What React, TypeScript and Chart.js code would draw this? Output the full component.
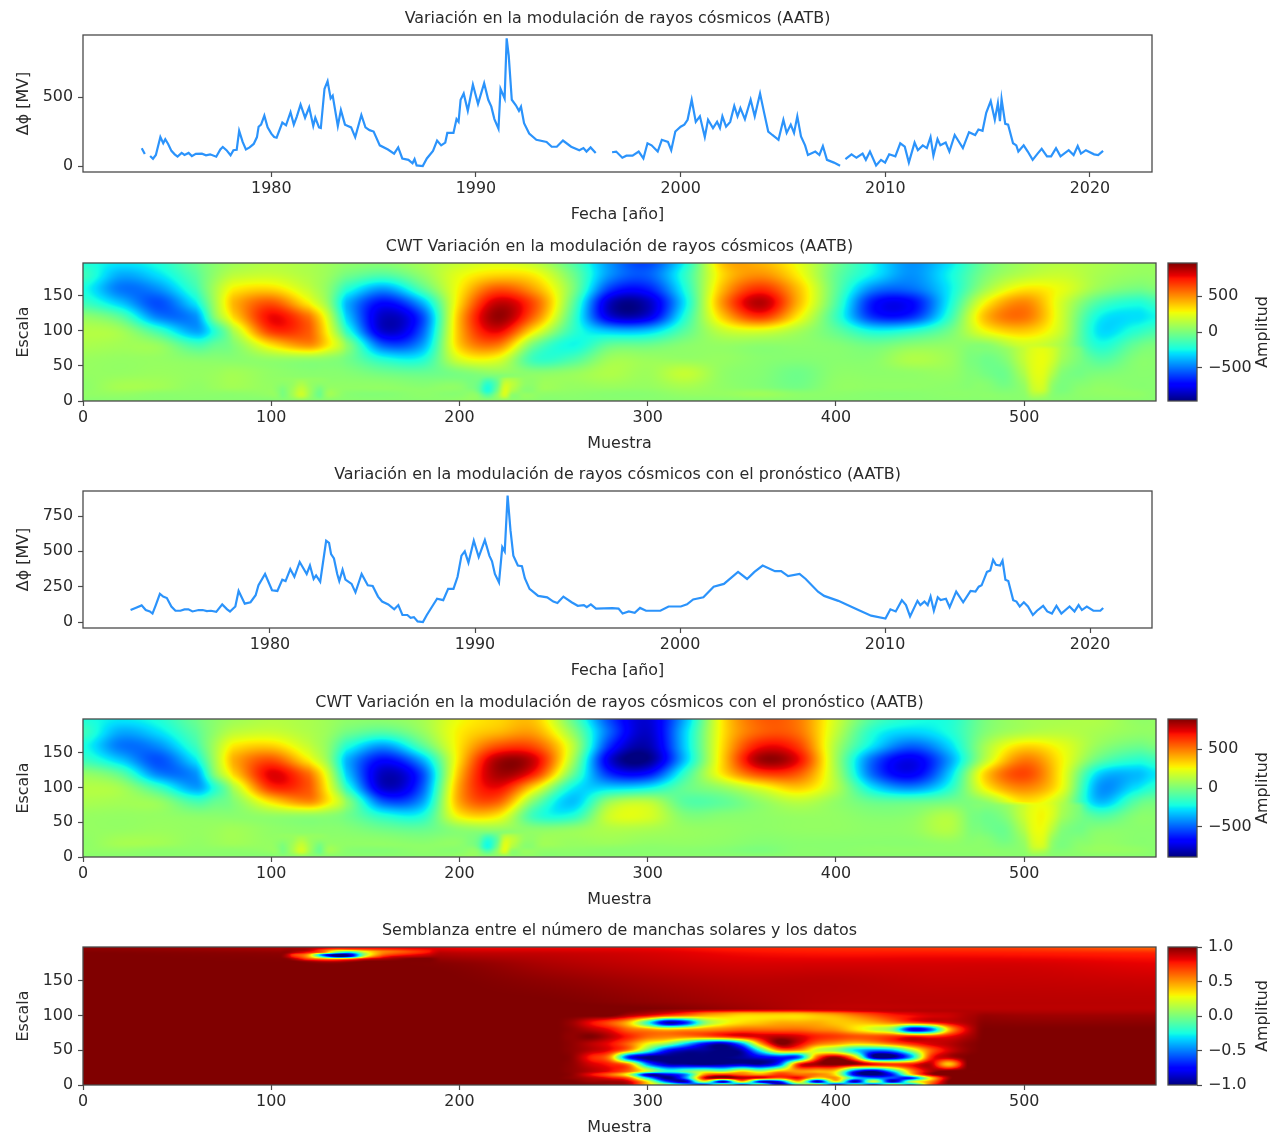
import React, { useEffect, useRef } from "react";
import { Chart, registerables } from "chart.js";

Chart.register(...registerables);

const FONT = "'DejaVu Sans'";
const FONT_SIZE = 15.9;
const TEXT = "#2a2a2a";
const SPINE = "#4a4a4a";

const cosmicRays: [number, number | null][] = [
  [1973.67,129],[1973.82,87],[1973.95,null],[1974.08,73],[1974.22,53],[1974.36,80],[1974.58,210],[1974.72,165],[1974.82,194],[1974.96,160],
  [1975.12,110],[1975.28,85],[1975.42,68],[1975.62,95],[1975.76,80],[1975.96,95],[1976.12,72],[1976.31,88],[1976.61,90],[1976.81,78],
  [1977.01,85],[1977.31,68],[1977.51,120],[1977.63,138],[1977.81,115],[1978.01,78],[1978.15,115],[1978.31,118],[1978.43,255],[1978.6,175],
  [1978.76,120],[1978.94,135],[1979.14,160],[1979.3,210],[1979.38,285],[1979.5,300],[1979.66,365],[1979.82,280],[1980,235],[1980.14,210],
  [1980.26,205],[1980.54,315],[1980.72,295],[1980.94,390],[1981.1,300],[1981.25,360],[1981.43,445],[1981.65,350],[1981.85,425],[1982.05,290],
  [1982.15,350],[1982.33,280],[1982.42,275],[1982.6,560],[1982.75,615],[1982.9,490],[1983,510],[1983.25,290],[1983.4,405],[1983.6,300],
  [1983.9,280],[1984.1,210],[1984.4,370],[1984.6,280],[1984.8,260],[1985,250],[1985.3,150],[1985.7,120],[1986,90],[1986.2,135],
  [1986.4,55],[1986.7,45],[1986.9,20],[1987,50],[1987.1,5],[1987.4,0],[1987.6,55],[1987.9,110],[1988.1,185],[1988.3,150],
  [1988.5,170],[1988.6,240],[1988.9,240],[1989.05,340],[1989.15,320],[1989.25,480],[1989.4,525],[1989.6,400],[1989.85,590],[1990.1,450],
  [1990.4,600],[1990.6,480],[1990.75,430],[1990.9,340],[1991.1,270],[1991.2,560],[1991.4,490],[1991.5,925],[1991.6,800],[1991.75,480],
  [1991.95,440],[1992.1,400],[1992.2,430],[1992.35,310],[1992.6,235],[1992.95,190],[1993.45,175],[1993.7,140],[1993.95,140],[1994.25,185],
  [1994.65,140],[1995.05,115],[1995.25,130],[1995.4,105],[1995.6,135],[1995.85,95],[1996.2,null],[1996.65,100],[1996.85,105],[1997.15,60],
  [1997.35,75],[1997.65,75],[1997.95,105],[1998.18,55],[1998.38,165],[1998.58,150],[1998.88,105],[1999.08,190],[1999.38,175],[1999.54,115],
  [1999.74,250],[2000,285],[2000.18,300],[2000.34,335],[2000.54,480],[2000.74,320],[2000.94,360],[2001.18,210],[2001.34,335],[2001.58,275],
  [2001.78,320],[2001.92,275],[2002.04,360],[2002.22,285],[2002.42,320],[2002.62,435],[2002.78,360],[2002.92,420],[2003.14,340],[2003.42,480],
  [2003.62,360],[2003.88,525],[2004.08,385],[2004.28,250],[2004.48,225],[2004.78,190],[2005.02,335],[2005.18,240],[2005.38,300],[2005.54,240],
  [2005.7,360],[2005.88,215],[2006.08,150],[2006.22,80],[2006.58,105],[2006.78,80],[2006.95,145],[2007.15,45],[2007.49,25],[2007.79,2],
  [2007.9,null],[2008.05,50],[2008.35,85],[2008.59,60],[2008.89,90],[2009.05,45],[2009.25,105],[2009.55,5],[2009.79,45],[2009.99,25],
  [2010.19,85],[2010.49,70],[2010.73,165],[2010.95,140],[2011.15,25],[2011.43,170],[2011.59,115],[2011.83,150],[2012.03,130],[2012.21,210],
  [2012.35,75],[2012.55,195],[2012.69,150],[2012.95,170],[2013.13,105],[2013.39,225],[2013.79,130],[2014.09,245],[2014.39,225],[2014.55,265],
  [2014.75,255],[2014.93,385],[2015.15,470],[2015.35,335],[2015.5,455],[2015.6,325],[2015.68,485],[2015.86,305],[2016,300],[2016.24,165],
  [2016.4,150],[2016.5,105],[2016.76,150],[2016.96,105],[2017.2,45],[2017.44,90],[2017.64,125],[2017.9,70],[2018.1,70],[2018.34,130],
  [2018.56,70],[2018.96,115],[2019.2,80],[2019.4,145],[2019.56,90],[2019.8,115],[2020.2,85],[2020.4,80],[2020.64,110],
];

const cosmicForecast: [number, number][] = [
  [1973.2,85],[1973.44,100],[1973.74,118],[1973.94,85],[1974.14,75],[1974.27,60],[1974.43,120],[1974.63,200],[1974.79,180],[1974.97,170],
  [1975.19,110],[1975.39,80],[1975.63,80],[1975.83,90],[1976.02,90],[1976.22,75],[1976.52,85],[1976.72,85],[1976.92,78],[1977.12,80],
  [1977.38,72],[1977.67,125],[1977.91,90],[1978.05,75],[1978.31,110],[1978.47,220],[1978.77,130],[1979.05,140],[1979.3,190],[1979.44,260],
  [1979.76,340],[1980.1,225],[1980.36,220],[1980.6,300],[1980.76,290],[1980.99,375],[1981.19,320],[1981.45,425],[1981.79,340],[1981.95,400],
  [1982.13,305],[1982.25,330],[1982.45,285],[1982.74,575],[1982.88,560],[1982.98,480],[1983.12,450],[1983.28,340],[1983.38,290],[1983.54,370],
  [1983.68,300],[1983.98,270],[1984.17,210],[1984.47,340],[1984.77,260],[1985.01,255],[1985.27,180],[1985.47,145],[1985.77,125],[1986.06,90],
  [1986.26,120],[1986.46,50],[1986.7,50],[1986.86,30],[1987.02,35],[1987.2,5],[1987.46,0],[1987.65,50],[1987.91,110],[1988.15,165],
  [1988.45,155],[1988.69,235],[1988.95,235],[1989.15,320],[1989.34,470],[1989.5,500],[1989.68,420],[1989.94,575],[1990.18,460],[1990.48,580],
  [1990.7,470],[1990.83,430],[1990.97,340],[1991.17,280],[1991.33,530],[1991.45,500],[1991.59,895],[1991.73,650],[1991.87,470],[1992.09,400],
  [1992.29,395],[1992.43,310],[1992.66,235],[1993.08,185],[1993.52,175],[1993.82,145],[1994.02,135],[1994.31,180],[1994.71,140],[1995.01,115],
  [1995.31,120],[1995.45,105],[1995.65,125],[1995.9,95],[1996.7,98],[1997,95],[1997.2,60],[1997.5,75],[1997.79,65],[1998.05,100],
  [1998.34,80],[1999.04,80],[1999.44,110],[2000.04,110],[2000.34,125],[2000.64,160],[2001.14,175],[2001.64,250],[2002.14,270],[2002.83,355],
  [2003.27,305],[2003.63,355],[2004.03,400],[2004.63,360],[2004.93,360],[2005.27,325],[2005.83,340],[2006.13,305],[2006.73,215],[2007.03,185],
  [2007.72,150],[2008.62,90],[2009.32,45],[2010.02,25],[2010.26,90],[2010.52,75],[2010.82,155],[2011.02,120],[2011.22,40],[2011.58,150],
  [2011.72,120],[2011.92,145],[2012.08,120],[2012.22,180],[2012.38,80],[2012.57,175],[2012.71,155],[2012.97,165],[2013.15,105],[2013.47,215],
  [2013.81,140],[2014.17,220],[2014.41,215],[2014.57,250],[2014.71,260],[2014.97,355],[2015.13,365],[2015.27,440],[2015.41,405],[2015.61,400],
  [2015.73,435],[2015.87,300],[2016.01,290],[2016.25,155],[2016.41,145],[2016.57,110],[2016.77,140],[2016.97,110],[2017.21,50],[2017.41,80],
  [2017.71,115],[2017.91,75],[2018.14,60],[2018.36,115],[2018.6,60],[2019,110],[2019.24,75],[2019.44,120],[2019.6,85],[2019.84,110],
  [2020.16,80],[2020.5,80],[2020.64,100],
];

const yearTicks = [1980, 1990, 2000, 2010, 2020];
const sampleTicks = [0, 100, 200, 300, 400, 500];
const scaleTicks = [0, 50, 100, 150];
const dataTicks1 = [0, 500];
const dataTicks2 = [0, 250, 500, 750];
const ampTicks = [-500, 0, 500];
const semblanceTicks = [-1, -0.5, 0, 0.5, 1];

const cwtSamples = [0,20,40,60,70,80,100,120,130,140,160,180,200,220,240,260,280,300,320,340,360,380,400,420,440,460,480,500,520,540,560,570];
const cwtScales = [199,180,160,140,120,100,80,60,40,20,10,0];

// one line per sample column, top (scale 199) to bottom (scale 0)
const cwtData = [
  [-220,-150,-230,-150,50,130,110,70,60,40,50,30],
  [-280,-400,-500,-350,-80,90,90,60,60,100,60,30],
  [-220,-300,-450,-580,-480,-150,60,60,70,90,40,30],
  [-50,-90,-150,-280,-450,-420,-130,30,60,50,40,30],
  [30,50,100,90,20,-200,-60,30,70,70,40,30],
  [80,150,300,420,350,120,20,30,90,90,40,30],
  [130,180,350,620,780,680,330,60,50,60,60,20],
  [110,120,170,300,560,610,500,60,30,90,130,30],
  [80,70,40,60,200,280,320,40,30,60,100,30],
  [50,-20,-200,-380,-330,-180,40,-20,20,50,30,30],
  [40,-100,-430,-720,-860,-840,-560,-220,-30,50,20,30],
  [100,50,-100,-400,-600,-560,-430,-230,-50,30,40,30],
  [170,250,300,350,420,420,380,220,0,40,30,50],
  [220,350,620,850,930,800,550,250,50,-120,100,100],
  [150,300,450,620,560,300,-30,-160,30,70,50,30],
  [-100,-20,20,-50,-120,-170,-250,-120,60,60,40,30],
  [-450,-450,-620,-860,-800,-360,-60,80,120,70,30,30],
  [-600,-550,-680,-870,-800,-350,-40,70,80,60,30,30],
  [-250,-180,-220,-280,-200,-80,30,60,170,100,60,30],
  [400,350,420,500,380,170,60,60,50,50,60,30],
  [420,500,700,880,680,220,40,30,20,20,80,30],
  [250,300,400,420,300,100,40,20,-30,-20,40,30],
  [-20,-50,-60,-100,-150,-60,20,30,40,50,40,30],
  [-260,-280,-480,-700,-640,-250,-30,30,40,50,30,30],
  [-450,-450,-520,-730,-640,-200,30,120,50,50,30,30],
  [-300,-260,-280,-260,-180,-30,50,80,60,40,40,30],
  [-30,10,100,300,420,280,30,-30,0,30,40,30],
  [90,140,320,520,560,380,200,230,210,180,60,30],
  [130,180,250,200,190,170,100,120,10,10,30,30],
  [110,100,60,-120,-260,-300,-220,-100,0,50,50,30],
  [70,60,-20,-220,-300,-200,-50,20,30,30,50,30],
  [70,60,10,-160,-250,-130,0,30,30,30,30,30],
];

const cwtForecast = [
  [-200,-140,-210,-140,50,120,100,60,55,40,45,30],
  [-260,-370,-460,-320,-70,85,85,55,55,90,55,30],
  [-200,-280,-420,-530,-440,-140,55,55,65,85,40,30],
  [-40,-80,-140,-260,-410,-390,-120,30,55,50,40,30],
  [30,45,90,85,20,-185,-55,30,65,65,40,30],
  [75,140,290,400,330,110,20,30,80,80,40,30],
  [120,170,340,580,740,640,310,55,45,55,55,20],
  [100,110,160,280,520,570,470,55,30,85,120,30],
  [75,65,40,55,185,260,300,40,30,55,95,30],
  [45,-20,-190,-350,-310,-170,40,-20,20,45,30,30],
  [40,-90,-400,-660,-800,-780,-520,-200,-30,45,20,30],
  [90,50,-90,-370,-550,-520,-400,-210,-50,30,40,30],
  [250,280,300,320,380,430,420,280,40,40,30,50],
  [320,380,580,820,830,720,560,300,60,-100,100,100],
  [350,420,580,760,660,300,0,-150,30,70,50,30],
  [-50,50,150,100,-30,-240,-330,-200,50,60,40,30],
  [-550,-500,-600,-750,-600,-300,60,180,110,70,30,30],
  [-760,-780,-820,-880,-650,-250,130,200,100,50,30,30],
  [-350,-300,-300,-320,-150,-50,-80,10,60,50,30,30],
  [300,300,320,340,300,60,-60,20,50,40,20,30],
  [550,550,700,840,600,220,50,40,40,20,0,30],
  [500,520,620,720,560,350,140,60,50,30,30,30],
  [180,150,100,80,100,120,50,50,50,30,30,30],
  [-100,-200,-280,-500,-500,-280,-50,20,40,30,40,30],
  [-200,-300,-500,-720,-700,-430,-60,30,50,30,40,30],
  [-200,-210,-300,-400,-320,-200,-20,110,120,50,40,30],
  [0,20,100,150,350,280,50,-60,-50,30,40,30],
  [80,110,320,500,600,480,300,200,200,200,60,30],
  [100,130,230,270,260,240,130,100,-20,0,30,30],
  [110,90,50,-60,-300,-400,-340,-100,20,50,60,30],
  [50,50,-30,-180,-340,-270,-80,20,30,30,50,30],
  [50,50,0,-140,-260,-170,-20,30,30,30,30,30],
];

const fanASamples = [100,106,111,116,121,126,132];
const fanAScales = [35,25,15,8,0];
const fanA = [
  [60,60,60,60,60,60,60],
  [40,40,60,110,60,40,40],
  [20,0,80,170,70,-20,40],
  [60,0,80,180,60,-30,60],
  [30,30,30,40,30,30,30],
];

const fanBSamples = [205,210,215,220,224,228,235,245];
const fanBScales = [38,25,15,8,0];
const fanB = [
  [10,20,10,20,40,60,50,40],
  [40,-40,-180,-60,170,150,50,60],
  [50,-50,-220,-20,220,120,30,60],
  [40,20,-80,50,200,40,60,40],
  [40,40,40,40,40,40,40,40],
];

const tailSamples = [470,480,490,500,505,510,515,520,530,535];
const tailScales = [80,60,40,25,15,8,0];
const tail = [
  [40,30,70,170,230,240,200,110,-20,-140],
  [20,-30,20,170,240,260,200,90,-10,-70],
  [30,-20,-30,120,230,240,130,20,-20,-5],
  [40,20,-20,70,200,210,60,0,20,30],
  [40,30,10,50,170,180,40,0,40,50],
  [30,40,30,40,110,100,30,20,40,50],
  [30,30,30,30,40,40,30,30,30,30],
];

const semblanceSamples = [0,100,160,200,250,300,350,400,450,500,570];
const semblanceScales = [199,190,175,150,120,110,100,80,0];
const semblanceBase = [
  [.97,.92,.85,.8,.8,.8,.75,.72,.7,.68,.6],
  [1,.98,.95,.9,.88,.85,.8,.78,.78,.77,.75],
  [1,1,1,.98,.92,.88,.85,.85,.85,.85,.82],
  [1,1,1,1,.97,.93,.9,.9,.88,.88,.87],
  [1,1,1,1,1,.97,.93,.9,.9,.9,.9],
  [1,1,1,1,1,1,.95,.9,.9,.9,.9],
  [1,1,1,1,1,1,1,1,.98,.95,.95],
  [1,1,1,1,1,1,1,1,1,1,1],
  [1,1,1,1,1,1,1,1,1,1,1],
];

const patchSamples = [105,112,120,128,135,142,150,158,165,175,190];
const patchScales = [199,195,191,188,185,182,178,172];
const semblancePatch = [
  [.98,.95,.9,.75,.65,.65,.7,.7,.75,.8,.85],
  [1,.95,.9,.55,.3,.35,.45,.55,.6,.7,.8],
  [1,.9,.75,.5,-.1,-.3,.2,.5,.6,.7,.85],
  [.95,.7,.45,-.6,-1,-.85,.1,.55,.7,.8,.9],
  [.9,.75,.45,-.3,-.9,-.7,.3,.7,.85,.9,.95],
  [1,.9,.65,.5,.45,.55,.8,.9,.95,1,1],
  [1,1,.95,.9,.9,.95,1,1,1,1,1],
  [1,1,1,1,1,1,1,1,1,1,1],
];

const coreSamples = [250,260,270,280,290,300,310,320,330,340,350,360,370,380,390,400,410,420,430,440,450,460,470,480];
const coreScales = [110,100,90,80,70,60,50,40,30,20,15,10,5,0];
const semblanceCore = [
  [1,1,1,1,1,.95,.9,.85,.8,.75,.7,.7,.7,.7,.75,.8,.85,.88,.9,.9,.9,.9,.9,.9],
  [1,1,1,1,.9,.8,.65,.55,.45,.4,.35,.35,.35,.35,.4,.45,.55,.65,.75,.8,.85,.87,.92,.95],
  [1,.95,.8,.65,.4,-.2,-.9,-.7,0,.25,.35,.4,.45,.45,.45,.4,.4,.45,.55,.65,.75,.85,.92,.98],
  [1,.97,.9,.8,.6,.5,.4,.45,.5,.55,.6,.6,.6,.6,.55,.5,.35,.2,0,-.8,-.6,.4,.85,1],
  [1,.97,1,.9,.75,.6,.55,.55,.6,.7,.8,.85,.9,.85,.75,.7,.65,.65,.7,.75,.7,.8,.92,1],
  [1,.97,.9,.8,.6,.3,.1,-.3,-.7,-.85,-.4,.5,1,.85,.6,.5,.4,.45,.6,.75,.85,.9,.97,1],
  [1,.97,.9,.8,.5,-.1,-.7,-.9,-.95,-1,-.9,-.2,.5,.5,.2,.05,-.3,-.5,-.4,.1,.6,.85,.97,1],
  [1,.97,.75,.5,-.7,-1,-1,-1,-1,-1,-.95,-.8,-.7,-.6,.6,.95,.4,-.95,-1,-.4,.7,.9,1,1],
  [1,.97,.85,.75,.5,-.5,-.9,-.95,-1,-.95,-.9,-.95,-.6,.7,.95,1,.95,.8,.7,.75,.9,.4,1,1],
  [1,.97,.9,.8,.6,.2,-.2,-.1,.1,0,.3,.1,.4,.5,.45,.35,-.6,-.9,-.3,.5,.9,1,1,1],
  [1,.97,.8,.6,.2,-.9,-.8,-.5,.5,.7,.6,.5,.7,.6,.55,.3,-.8,-1,-.7,.3,.9,1,1,1],
  [1,.97,.9,.8,.6,-.3,-1,-.5,.8,.95,.9,.8,.6,.8,.3,.5,-.3,-.5,-.6,-.7,.3,.95,1,1],
  [1,1,.95,.95,.85,.3,-.6,-.9,.2,-.9,.4,-.8,-.7,.4,-.9,.3,-.9,.2,-.9,.1,.5,1,1,1],
  [1,1,1,.95,.9,.4,.1,-.3,-.8,.3,-.8,.2,-.9,-.2,.4,-.9,.1,-.8,.3,-.5,.6,1,1,1],
];

type Layer = { xs: number[]; ys: number[]; rows: number[][] };

const transpose = (cols: number[][]) => cols[0].map((_, j) => cols.map((c) => c[j]));

const fanLayers: Layer[] = [
  { xs: fanASamples, ys: fanAScales, rows: fanA },
  { xs: fanBSamples, ys: fanBScales, rows: fanB },
  { xs: tailSamples, ys: tailScales, rows: tail },
];

function jet(t: number): [number, number, number] {
  const ramp = (v: number, a: number, b: number) => Math.max(0, Math.min(1, (v - a) / (b - a)));
  const r = t < 0.89 ? ramp(t, 0.35, 0.66) : 1 - 0.5 * ramp(t, 0.89, 1);
  const g = t < 0.5 ? ramp(t, 0.125, 0.375) : 1 - ramp(t, 0.64, 0.91);
  const b = t < 0.34 ? 0.5 + 0.5 * ramp(t, 0, 0.11) : 1 - ramp(t, 0.34, 0.65);
  return [r * 255, g * 255, b * 255];
}

function frac(axis: number[], v: number) {
  const desc = axis[0] > axis[axis.length - 1];
  for (let i = 0; i < axis.length - 1; i++) {
    const a = axis[i];
    const b = axis[i + 1];
    if (desc ? v >= b : v <= b) return i + Math.max(0, Math.min(1, (v - a) / (b - a)));
  }
  return axis.length - 1;
}

function cubic(p0: number, p1: number, p2: number, p3: number, t: number) {
  return p1 + 0.5 * t * (p2 - p0 + t * (2 * p0 - 5 * p1 + 4 * p2 - p3 + t * (3 * (p1 - p2) + p3 - p0)));
}

function sampleLayer(l: Layer, fx: number, fy: number) {
  const nx = l.xs.length;
  const ny = l.ys.length;
  const ix = Math.min(nx - 2, Math.floor(fx));
  const iy = Math.min(ny - 2, Math.floor(fy));
  const tx = fx - ix;
  const ty = fy - iy;
  const vals = [0, 0, 0, 0];
  for (let j = -1; j <= 2; j++) {
    const row = l.rows[Math.max(0, Math.min(ny - 1, iy + j))];
    vals[j + 1] = cubic(
      row[Math.max(0, ix - 1)],
      row[ix],
      row[Math.min(nx - 1, ix + 1)],
      row[Math.min(nx - 1, ix + 2)],
      tx
    );
  }
  return cubic(vals[0], vals[1], vals[2], vals[3], ty);
}

const FADE = 6;

const heatPlugin = {
  id: "heat",
  beforeDatasetsDraw(chart: any, _a: any, opts: any) {
    const layers: Layer[] | undefined = opts.layers;
    if (!layers) return;
    const { left, top, width, height } = chart.chartArea;
    const W = Math.round(width);
    const H = Math.round(height);
    const off = document.createElement("canvas");
    off.width = W;
    off.height = H;
    const octx = off.getContext("2d")!;
    const img = octx.createImageData(W, H);
    const xVal = Array.from({ length: W }, (_, i) => chart.scales.x.getValueForPixel(left + i + 0.5));
    const yVal = Array.from({ length: H }, (_, j) => chart.scales.y.getValueForPixel(top + j + 0.5));
    const pre = layers.map((l) => ({
      fx: xVal.map((v) => frac(l.xs, v)),
      fy: yVal.map((v) => frac(l.ys, v)),
      xmin: Math.min(...l.xs),
      xmax: Math.max(...l.xs),
      ymin: Math.min(...l.ys),
      ymax: Math.max(...l.ys),
    }));
    for (let j = 0; j < H; j++) {
      for (let i = 0; i < W; i++) {
        let v = sampleLayer(layers[0], pre[0].fx[i], pre[0].fy[j]);
        for (let n = 1; n < layers.length; n++) {
          const p = pre[n];
          const x = xVal[i];
          const y = yVal[j];
          if (x < p.xmin || x > p.xmax || y < p.ymin || y > p.ymax) continue;
          const edgeX = Math.min(x - p.xmin, p.xmax - x);
          const edgeY = Math.min(p.ymax - y, p.ymin > 0 ? y - p.ymin : FADE);
          const w = Math.min(1, edgeX / FADE) * Math.min(1, edgeY / FADE);
          v = v * (1 - w) + sampleLayer(layers[n], p.fx[i], p.fy[j]) * w;
        }
        const t = Math.max(0, Math.min(1, (v - opts.min) / (opts.max - opts.min)));
        const [r, g, b] = jet(t);
        const o = (j * W + i) * 4;
        img.data[o] = r;
        img.data[o + 1] = g;
        img.data[o + 2] = b;
        img.data[o + 3] = 255;
      }
    }
    octx.putImageData(img, 0, 0);
    chart.ctx.drawImage(off, left, top);
  },
};

const colorbarPlugin = {
  id: "colorbar",
  beforeDatasetsDraw(chart: any, _a: any, opts: any) {
    if (!opts.label) return;
    const { left, top, width, height } = chart.chartArea;
    const ctx = chart.ctx;
    const s = chart.scales.y;
    for (let j = 0; j < height; j++) {
      const t = (s.getValueForPixel(top + j + 0.5) - s.min) / (s.max - s.min);
      const [r, g, b] = jet(t);
      ctx.fillStyle = `rgb(${r},${g},${b})`;
      ctx.fillRect(left, top + j, width, 1);
    }
    ctx.save();
    ctx.fillStyle = TEXT;
    ctx.font = `${FONT_SIZE}px ${FONT}`;
    ctx.textAlign = "center";
    ctx.textBaseline = "middle";
    ctx.translate(103, top + height / 2);
    ctx.rotate(-Math.PI / 2);
    ctx.fillText(opts.label, 0, 0);
    ctx.restore();
  },
};

const spinePlugin = {
  id: "spines",
  afterDraw(chart: any) {
    const { left, top, width, height } = chart.chartArea;
    const ctx = chart.ctx;
    ctx.save();
    ctx.strokeStyle = SPINE;
    ctx.lineWidth = 1.3;
    ctx.strokeRect(left, top, width, height);
    ctx.restore();
  },
};

const TITLE_H = 28;
const AXIS_H = 52;

const fontOf = { family: FONT, size: FONT_SIZE, lineHeight: 1.2 };

function axis(
  ticks: number[],
  min: number,
  max: number,
  title: string,
  horizontal: boolean,
  titlePad: number,
  format: (v: number) => string
) {
  return {
    type: "linear",
    min,
    max,
    afterBuildTicks(s: any) {
      s.ticks = ticks.map((value) => ({ value }));
    },
    afterFit(s: any) {
      if (horizontal) s.height = AXIS_H;
      else s.width = 83;
    },
    border: { display: false },
    grid: { drawOnChartArea: false, drawTicks: true, tickLength: 5, tickColor: SPINE, tickWidth: 1.2 },
    ticks: {
      autoSkip: false,
      maxRotation: 0,
      minRotation: 0,
      padding: horizontal ? 2.5 : 5,
      color: TEXT,
      font: fontOf,
      callback: (v: any) => format(Number(v)),
    },
    title: {
      display: true,
      text: title,
      color: TEXT,
      font: fontOf,
      padding: { top: titlePad, bottom: 0 },
    },
  };
}

function baseOptions(title: string, areaRight: number, scales: any, heat: any) {
  return {
    animation: false,
    responsive: false,
    devicePixelRatio: 1,
    layout: { autoPadding: false, padding: { left: 0, top: 0, bottom: 0, right: 1282 - areaRight } },
    plugins: {
      legend: { display: false },
      tooltip: { enabled: false },
      title: {
        display: true,
        text: title,
        color: TEXT,
        fullSize: false,
        font: { family: FONT, size: FONT_SIZE, lineHeight: 18 / FONT_SIZE, weight: "normal" },
        padding: { top: 3, bottom: 7 },
      },
      heat,
    },
    scales,
  };
}

const intFmt = (v: number) => String(v);
const signedFmt = (v: number) => String(v).replace("-", "\u2212");
const oneDecFmt = (v: number) => v.toFixed(1).replace("-", "\u2212");

type Panel = {
  top: number;
  bottom: number;
  title: string;
  line?: [number, number | null][];
  layers?: Layer[];
  xRange: [number, number];
  xTicks: number[];
  xTitle: string;
  xTitlePad: number;
  yRange: [number, number];
  yTicks: number[];
  yTitle: string;
  colorbar?: { min: number; max: number; ticks: number[]; format: (v: number) => string };
};

const panels: Panel[] = [
  {
    top: 35, bottom: 172,
    title: "Variación en la modulación de rayos cósmicos (AATB)",
    line: cosmicRays,
    xRange: [1970.8, 2023.03], xTicks: yearTicks, xTitle: "Fecha [año]", xTitlePad: 0.4,
    yRange: [-43, 949], yTicks: dataTicks1, yTitle: "Δϕ [MV]",
  },
  {
    top: 263, bottom: 401,
    title: "CWT Variación en la modulación de rayos cósmicos (AATB)",
    layers: [{ xs: cwtSamples, ys: cwtScales, rows: transpose(cwtData) }, ...fanLayers],
    xRange: [0, 570], xTicks: sampleTicks, xTitle: "Muestra", xTitlePad: 2.4,
    yRange: [0, 197], yTicks: scaleTicks, yTitle: "Escala",
    colorbar: { min: -966, max: 966, ticks: ampTicks, format: signedFmt },
  },
  {
    top: 491, bottom: 628,
    title: "Variación en la modulación de rayos cósmicos con el pronóstico (AATB)",
    line: cosmicForecast,
    xRange: [1970.88, 2023.02], xTicks: yearTicks, xTitle: "Fecha [año]", xTitlePad: 0.4,
    yRange: [-42, 927], yTicks: dataTicks2, yTitle: "Δϕ [MV]",
  },
  {
    top: 719, bottom: 857,
    title: "CWT Variación en la modulación de rayos cósmicos con el pronóstico (AATB)",
    layers: [{ xs: cwtSamples, ys: cwtScales, rows: transpose(cwtForecast) }, ...fanLayers],
    xRange: [0, 570], xTicks: sampleTicks, xTitle: "Muestra", xTitlePad: 2.4,
    yRange: [0, 199], yTicks: scaleTicks, yTitle: "Escala",
    colorbar: { min: -890, max: 890, ticks: ampTicks, format: signedFmt },
  },
  {
    top: 947, bottom: 1085,
    title: "Semblanza entre el número de manchas solares y los datos",
    layers: [
      { xs: semblanceSamples, ys: semblanceScales, rows: semblanceBase },
      { xs: patchSamples, ys: patchScales, rows: semblancePatch },
      { xs: coreSamples, ys: coreScales, rows: semblanceCore },
    ],
    xRange: [0, 570], xTicks: sampleTicks, xTitle: "Muestra", xTitlePad: 2.4,
    yRange: [0, 199], yTicks: scaleTicks, yTitle: "Escala",
    colorbar: { min: -1, max: 1, ticks: semblanceTicks, format: oneDecFmt },
  },
];

function PanelChart({ p }: { p: Panel }) {
  const mainRef = useRef<HTMLCanvasElement>(null);
  const barRef = useRef<HTMLCanvasElement>(null);
  const canvasH = TITLE_H + (p.bottom - p.top) + AXIS_H;
  const canvasTop = p.top - TITLE_H;

  useEffect(() => {
    const scales = {
      x: axis(p.xTicks, p.xRange[0], p.xRange[1], p.xTitle, true, p.xTitlePad, intFmt),
      y: axis(p.yTicks, p.yRange[0], p.yRange[1], p.yTitle, false, 14, intFmt),
    };
    const main = new Chart(mainRef.current as any, {
      type: "line",
      data: {
        datasets: p.line
          ? [
              {
                data: p.line.map(([x, y]) => ({ x, y })),
                borderColor: "#2b93fb",
                borderWidth: 2.2,
                pointRadius: 0,
                tension: 0,
                spanGaps: false,
              },
            ]
          : [],
      },
      options: baseOptions(
        p.title,
        p.layers ? 1156 : 1152,
        scales,
        p.layers ? { layers: p.layers, min: p.colorbar!.min, max: p.colorbar!.max } : {}
      ) as any,
      plugins: [heatPlugin, spinePlugin],
    } as any);

    let bar: Chart | null = null;
    if (p.colorbar && barRef.current) {
      const cb = p.colorbar;
      bar = new Chart(barRef.current as any, {
        type: "scatter",
        data: { datasets: [] },
        options: {
          animation: false,
          responsive: false,
          devicePixelRatio: 1,
          layout: { autoPadding: false, padding: { left: 8, top: TITLE_H, bottom: AXIS_H, right: 0 } },
          plugins: {
            legend: { display: false },
            tooltip: { enabled: false },
            colorbar: { label: "Amplitud" },
          },
          scales: {
            x: { display: false, min: 0, max: 1 },
            y: {
              type: "linear",
              position: "right",
              min: cb.min,
              max: cb.max,
              afterBuildTicks(s: any) {
                s.ticks = cb.ticks.map((value) => ({ value }));
              },
              afterFit(s: any) {
                s.width = 85;
              },
              border: { display: false },
              grid: { drawOnChartArea: false, tickLength: 5, tickColor: SPINE, tickWidth: 1.2 },
              ticks: {
                autoSkip: false,
                maxRotation: 0,
                minRotation: 0,
                padding: 6,
                color: TEXT,
                font: fontOf,
                callback: (v: any) => cb.format(Number(v)),
              },
            },
          },
        } as any,
        plugins: [colorbarPlugin, spinePlugin],
      } as any);
    }
    return () => {
      main.destroy();
      bar?.destroy();
    };
  }, [p]);

  return (
    <>
      <canvas
        ref={mainRef}
        width={1282}
        height={canvasH}
        style={{ position: "absolute", left: 0, top: canvasTop, width: 1282, height: canvasH }}
      />
      {p.colorbar ? (
        <canvas
          ref={barRef}
          width={122}
          height={canvasH}
          style={{ position: "absolute", left: 1160, top: canvasTop, width: 122, height: canvasH }}
        />
      ) : null}
    </>
  );
}

export default function App() {
  return (
    <div style={{ position: "absolute", left: 0, top: 0, width: 1282, height: 1135, background: "#fff", overflow: "hidden" }}>
      {panels.map((p) => (
        <PanelChart key={p.top} p={p} />
      ))}
    </div>
  );
}
